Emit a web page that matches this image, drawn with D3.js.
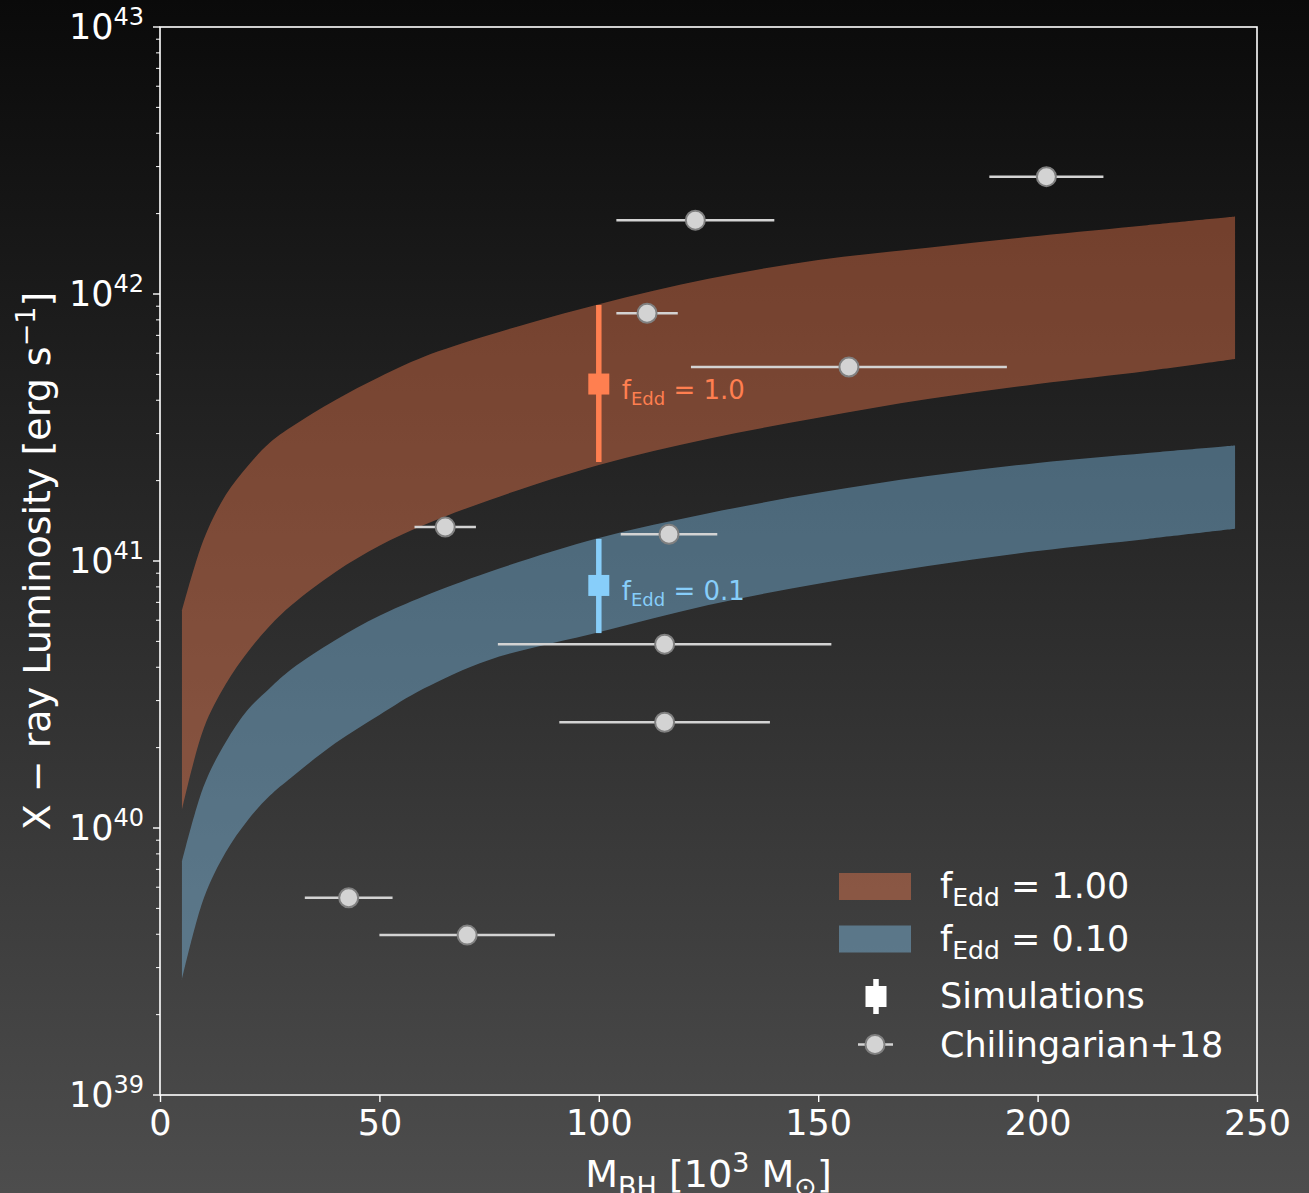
<!DOCTYPE html>
<html>
<head>
<meta charset="utf-8">
<script src="https://cdn.jsdelivr.net/npm/d3@7"></script>
<style>
    body { margin: 0; background: #000; }
    svg { display: block; font-family: "DejaVu Sans", sans-serif; }
</style>
</head>
<body>
<svg id="chart"></svg>
<script>
// black hole mass grid (10^3 Msun) for the bands
var mass = [5, 10, 15, 20, 25, 30, 40, 50, 60, 75, 100, 125, 150, 175, 200, 225, 245];

// f_Edd = 1.0 band, X-ray luminosity (erg/s)
var edd1Upper = [6.5e40, 1.21e41, 1.77e41, 2.27e41, 2.77e41, 3.18e41, 4.01e41, 4.89e41, 5.81e41, 7.02e41,
    9.15e41, 1.14e42, 1.34e42, 1.49e42, 1.65e42, 1.81e42, 1.95e42];
var edd1Lower = [1.17e40, 2.37e40, 3.46e40, 4.56e40, 5.71e40, 6.84e40, 9.10e40, 1.14e41, 1.36e41, 1.69e41,
    2.29e41, 2.87e41, 3.44e41, 4.04e41, 4.60e41, 5.15e41, 5.71e41];

// f_Edd = 0.1 band
var edd01Upper = [7.46e39, 1.44e40, 2.10e40, 2.77e40, 3.34e40, 3.94e40, 5.06e40, 6.23e40, 7.36e40, 9.10e40,
    1.22e41, 1.51e41, 1.80e41, 2.08e41, 2.33e41, 2.54e41, 2.71e41];
var edd01Lower = [2.70e39, 5.47e39, 8.13e39, 1.07e40, 1.32e40, 1.55e40, 2.08e40, 2.65e40, 3.32e40, 4.26e40,
    5.41e40, 6.84e40, 8.22e40, 9.57e40, 1.09e41, 1.21e41, 1.32e41];

// simulations (mass, L, L low, L high)
var simMass = [100, 100];
var simL = [4.6e41, 8.1e40];
var simLow = [2.35e41, 5.37e40];
var simHigh = [9.1e41, 1.21e41];
var simLabels = ["1.0", "0.1"];

// Chilingarian+18 observed
var obsMass = [202, 122, 111, 157, 65, 116, 115, 115, 43, 70];
var obsMassLow = [189, 104, 104, 121, 58, 105, 77, 91, 33, 50];
var obsMassHigh = [215, 140, 118, 193, 72, 127, 153, 139, 53, 90];
var obsL = [2.75e42, 1.89e42, 8.47e41, 5.33e41, 1.34e41, 1.26e41, 4.88e40, 2.49e40, 5.48e39, 3.97e39];

var xTicks = [0, 50, 100, 150, 200, 250];
var yDecades = [39, 40, 41, 42, 43];

var width = 1309;
var height = 1193;
var margin = { top: 27, right: 52, bottom: 98, left: 160 };

var svg = d3.select("#chart").attr("width", width).attr("height", height);

var defs = svg.append("defs");
var grad = defs.append("linearGradient")
    .attr("id", "bg")
    .attr("x1", 0).attr("y1", 0).attr("x2", 0).attr("y2", 1);
grad.append("stop").attr("offset", "0%").attr("stop-color", "#0a0a0a");
grad.append("stop").attr("offset", "100%").attr("stop-color", "#4d4d4d");

svg.append("rect")
    .attr("width", width)
    .attr("height", height)
    .attr("fill", "url(#bg)");

var x = d3.scaleLinear()
    .domain([0, 250])
    .range([margin.left, width - margin.right]);

var y = d3.scaleLog()
    .domain([1e39, 1e43])
    .range([height - margin.bottom, margin.top]);

var bands = [
    { upper: edd1Upper, lower: edd1Lower, color: "#ff7f50" },
    { upper: edd01Upper, lower: edd01Lower, color: "#87cefa" }
];

var area = d3.area()
    .curve(d3.curveCatmullRom.alpha(0.5))
    .x(function (d) { return x(d.m); })
    .y0(function (d) { return y(d.lo); })
    .y1(function (d) { return y(d.hi); });

bands.forEach(function (b) {
    var pts = mass.map(function (m, i) {
        return { m: m, lo: b.lower[i], hi: b.upper[i] };
    });
    svg.append("path")
        .attr("d", area(pts))
        .attr("fill", b.color)
        .attr("fill-opacity", 0.4);
});

// observed points
var obs = svg.append("g");
obsMass.forEach(function (m, i) {
    obs.append("line")
        .attr("x1", x(obsMassLow[i]))
        .attr("x2", x(obsMassHigh[i]))
        .attr("y1", y(obsL[i]))
        .attr("y2", y(obsL[i]))
        .attr("stroke", "#d3d3d3")
        .attr("stroke-width", 2.5);
    obs.append("circle")
        .attr("cx", x(m))
        .attr("cy", y(obsL[i]))
        .attr("r", 9.5)
        .attr("fill", "#d3d3d3")
        .attr("stroke", "#808080")
        .attr("stroke-width", 2);
});

// simulations
var simColors = ["#ff7f50", "#87cefa"];
simMass.forEach(function (m, i) {
    svg.append("line")
        .attr("x1", x(m)).attr("x2", x(m))
        .attr("y1", y(simLow[i])).attr("y2", y(simHigh[i]))
        .attr("stroke", simColors[i])
        .attr("stroke-width", 5.5);
    svg.append("rect")
        .attr("x", x(m) - 10.5)
        .attr("y", y(simL[i]) - 10.5)
        .attr("width", 21)
        .attr("height", 21)
        .attr("fill", simColors[i]);

    var t = svg.append("text")
        .attr("x", x(m) + 23)
        .attr("y", y(simL[i]) + 15)
        .attr("fill", simColors[i])
        .attr("font-size", 26);
    t.append("tspan").text("f");
    t.append("tspan").attr("font-size", 18).attr("dy", 6).text("Edd");
    t.append("tspan").attr("dy", -6).text(" = " + simLabels[i]);
});

// axes box
svg.append("rect")
    .attr("x", margin.left)
    .attr("y", margin.top)
    .attr("width", width - margin.left - margin.right)
    .attr("height", height - margin.top - margin.bottom)
    .attr("fill", "none")
    .attr("stroke", "white")
    .attr("stroke-width", 1.6);

var xAxis = svg.append("g")
    .attr("transform", "translate(0," + (height - margin.bottom) + ")")
    .call(d3.axisBottom(x).tickValues(xTicks).tickSize(7).tickPadding(8));
xAxis.select(".domain").remove();
xAxis.selectAll("line").attr("stroke", "white").attr("stroke-width", 1.4);
xAxis.selectAll("text")
    .attr("fill", "white")
    .attr("font-size", 35)
    .attr("font-family", "DejaVu Sans");

// y ticks, log scale with minor ticks
var yAxis = svg.append("g");
yDecades.forEach(function (e) {
    var v = Math.pow(10, e);
    yAxis.append("line")
        .attr("x1", margin.left - 7).attr("x2", margin.left)
        .attr("y1", y(v)).attr("y2", y(v))
        .attr("stroke", "white").attr("stroke-width", 1.4);
    var t = yAxis.append("text")
        .attr("x", margin.left - 16)
        .attr("y", y(v) + 12)
        .attr("text-anchor", "end")
        .attr("fill", "white")
        .attr("font-size", 35);
    t.append("tspan").text("10");
    t.append("tspan").attr("font-size", 24).attr("dy", -14).text(e);
    if (e < 43) {
        for (var k = 2; k <= 9; k++) {
            yAxis.append("line")
                .attr("x1", margin.left - 4).attr("x2", margin.left)
                .attr("y1", y(k * v)).attr("y2", y(k * v))
                .attr("stroke", "white").attr("stroke-width", 1);
        }
    }
});

// axis labels
var xl = svg.append("text")
    .attr("x", (margin.left + width - margin.right) / 2)
    .attr("y", 1187)
    .attr("text-anchor", "middle")
    .attr("fill", "white")
    .attr("font-size", 38);
xl.append("tspan").text("M");
xl.append("tspan").attr("font-size", 27).attr("dy", 9).text("BH");
xl.append("tspan").attr("dy", -9).text(" [10");
xl.append("tspan").attr("font-size", 27).attr("dy", -15).text("3");
xl.append("tspan").attr("dy", 15).text(" M");
xl.append("tspan").attr("font-size", 27).attr("dy", 9).text("\u2299");
xl.append("tspan").attr("dy", -9).text("]");

var yl = svg.append("text")
    .attr("transform", "translate(50," + ((margin.top + height - margin.bottom) / 2) + ") rotate(-90)")
    .attr("text-anchor", "middle")
    .attr("fill", "white")
    .attr("font-size", 38);
yl.append("tspan").text("X \u2212 ray Luminosity [erg s");
yl.append("tspan").attr("font-size", 27).attr("dy", -15).text("\u22121");
yl.append("tspan").attr("dy", 15).text("]");

// legend
var legend = svg.append("g").attr("transform", "translate(839,873)");
var legItems = [
    { kind: "patch", color: "#ff7f50", val: "1.00" },
    { kind: "patch", color: "#87cefa", val: "0.10" },
    { kind: "sim", label: "Simulations" },
    { kind: "obs", label: "Chilingarian+18" }
];
legItems.forEach(function (it, i) {
    var row = legend.append("g").attr("transform", "translate(0," + i * 52.5 + ")");
    if (it.kind === "patch") {
        row.append("rect")
            .attr("x", 0).attr("y", 0)
            .attr("width", 72).attr("height", 27)
            .attr("fill", it.color)
            .attr("fill-opacity", 0.4);
        var t = row.append("text")
            .attr("x", 101).attr("y", 25)
            .attr("fill", "white")
            .attr("font-size", 35);
        t.append("tspan").text("f");
        t.append("tspan").attr("font-size", 25).attr("dy", 8).text("Edd");
        t.append("tspan").attr("dy", -8).text(" = " + it.val);
    } else if (it.kind === "sim") {
        row.append("line")
            .attr("x1", 37).attr("x2", 37)
            .attr("y1", 1).attr("y2", 36)
            .attr("stroke", "white").attr("stroke-width", 5.5);
        row.append("rect")
            .attr("x", 26.5).attr("y", 8)
            .attr("width", 21).attr("height", 21)
            .attr("fill", "white");
        row.append("text")
            .attr("x", 101).attr("y", 30)
            .attr("fill", "white")
            .attr("font-size", 35)
            .text(it.label);
    } else {
        row.append("line")
            .attr("x1", 19).attr("x2", 54)
            .attr("y1", 14).attr("y2", 14)
            .attr("stroke", "#d3d3d3").attr("stroke-width", 2.5);
        row.append("circle")
            .attr("cx", 36).attr("cy", 14)
            .attr("r", 9.5)
            .attr("fill", "#d3d3d3")
            .attr("stroke", "#808080")
            .attr("stroke-width", 2);
        row.append("text")
            .attr("x", 101).attr("y", 26)
            .attr("fill", "white")
            .attr("font-size", 35)
            .text(it.label);
    }
});
</script>
</body>
</html>
